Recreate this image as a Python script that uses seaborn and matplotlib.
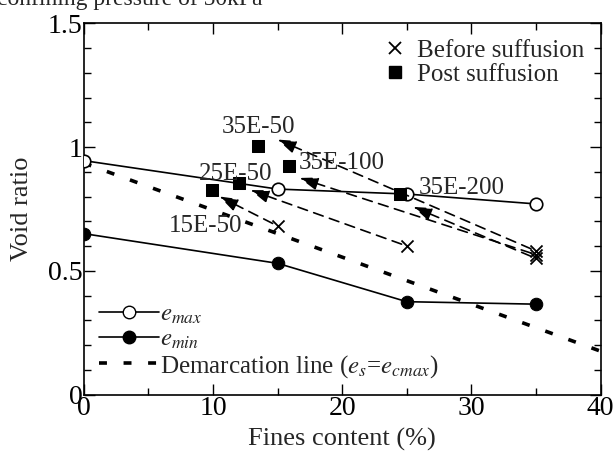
import numpy as np
import pandas as pd
import matplotlib
matplotlib.use("Agg")
import matplotlib.pyplot as plt
from matplotlib.lines import Line2D
from matplotlib.ticker import MultipleLocator, FuncFormatter
import seaborn as sns

# Limiting void ratios against fines content
fines = [0, 15, 25, 35]
e_max = [0.945, 0.83, 0.81, 0.77]
e_min = [0.65, 0.53, 0.375, 0.365]

# Demarcation line end points
demarc_x = [0, 40]
demarc_y = [0.935, 0.175]

# Specimens: before and after suffusion
specimens = ["15E-50", "25E-50", "35E-50", "35E-100", "35E-200"]
before_fc = [15, 25, 35, 35, 35]
before_e = [0.681, 0.60, 0.58, 0.565, 0.55]
post_fc = [9.9, 12.0, 13.5, 15.9, 24.5]
post_e = [0.827, 0.854, 1.004, 0.925, 0.81]

# Where each migration arrow ends
tip_fc = [10.5, 12.9, 15.0, 16.7, 25.5]
tip_e = [0.80, 0.826, 1.03, 0.875, 0.758]

# Specimen label anchors (left edge, vertical centre)
label_fc = [6.6, 8.9, 10.7, 16.6, 25.9]
label_e = [0.68, 0.89, 1.082, 0.935, 0.835]

DEMARC_STYLE = (0, (2.2, 4.6))

sns.set_theme(style="ticks")
plt.rcParams["font.family"] = ["Liberation Serif", "DejaVu Serif"]
plt.rcParams["mathtext.fontset"] = "stix"

fig = plt.figure(figsize=(6.16, 4.65), dpi=100)
ax = fig.add_axes([0.136, 0.1516, 0.839, 0.7984])

lim_df = pd.DataFrame({"fc": fines, "emax": e_max, "emin": e_min})
sns.lineplot(data=lim_df, x="fc", y="emax", ax=ax, color="black", lw=1.2,
             marker="o", markersize=9, markerfacecolor="white",
             markeredgecolor="black", markeredgewidth=1.2, zorder=3)
sns.lineplot(data=lim_df, x="fc", y="emin", ax=ax, color="black", lw=1.2,
             marker="o", markersize=9, markerfacecolor="black",
             markeredgecolor="black", zorder=3)

dm_df = pd.DataFrame({"fc": demarc_x, "e": demarc_y})
sns.lineplot(data=dm_df, x="fc", y="e", ax=ax, color="black", lw=2.6,
             linestyle=DEMARC_STYLE, zorder=2)

# Migration arrows from the initial state towards the post-suffusion state
for bx, by, tx, ty in zip(before_fc, before_e, tip_fc, tip_e):
    ax.annotate("", xy=(tx, ty), xytext=(bx, by),
                arrowprops=dict(arrowstyle="-|>,head_length=0.8,head_width=0.28",
                                mutation_scale=14, color="black", lw=1.2,
                                linestyle=(0, (6, 4)), shrinkA=4, shrinkB=0),
                zorder=4)

pts = pd.DataFrame({
    "fc": before_fc + post_fc,
    "e": before_e + post_e,
    "state": ["Before suffusion"] * len(before_fc) + ["Post suffusion"] * len(post_fc),
})
sns.scatterplot(data=pts[pts.state == "Before suffusion"], x="fc", y="e",
                marker="x", s=75, color="black", linewidth=1.3, ax=ax,
                legend=False, zorder=5)
sns.scatterplot(data=pts[pts.state == "Post suffusion"], x="fc", y="e",
                marker="s", s=85, color="black", edgecolor="black", ax=ax,
                legend=False, zorder=5)

for name, x, y in zip(specimens, label_fc, label_e):
    ax.text(x, y, name, fontsize=18, ha="left", va="center", zorder=6)

ax.set_xlim(0, 40)
ax.set_ylim(0, 1.5)
ax.xaxis.set_major_locator(MultipleLocator(10))
ax.xaxis.set_minor_locator(MultipleLocator(5))
ax.yaxis.set_major_locator(MultipleLocator(0.5))
ax.yaxis.set_minor_locator(MultipleLocator(0.1))
ax.xaxis.set_major_formatter(FuncFormatter(lambda v, p: f"{v:g}"))
ax.yaxis.set_major_formatter(FuncFormatter(lambda v, p: f"{v:g}"))
ax.tick_params(which="both", direction="in", top=True, right=True, colors="black",
               width=1.0)
ax.tick_params(which="major", length=8, labelsize=20, pad=1)
ax.tick_params(which="minor", length=5)
for s in ax.spines.values():
    s.set_color("black")
    s.set_linewidth(1.2)
ax.set_xlabel("Fines content (%)", fontsize=19, labelpad=5)
ax.set_ylabel("Void ratio", fontsize=19)
ax.yaxis.set_label_coords(-0.098, 0.5)

state_handles = [
    Line2D([], [], linestyle="none", marker="x", color="black", markersize=8, mew=1.3),
    Line2D([], [], linestyle="none", marker="s", color="black", markersize=8),
]
leg1 = ax.legend(state_handles, ["Before suffusion", "Post suffusion"],
                 loc="upper right", bbox_to_anchor=(1.0, 1.0), frameon=False,
                 fontsize=18, handlelength=0.8, handletextpad=0.5,
                 labelspacing=0.05, borderaxespad=0.25)
ax.add_artist(leg1)

limit_handles = [
    Line2D([], [], color="black", lw=1.2, marker="o", markersize=9,
           markerfacecolor="white", markeredgecolor="black"),
    Line2D([], [], color="black", lw=1.2, marker="o", markersize=9,
           markerfacecolor="black"),
    Line2D([], [], color="black", lw=2.6, linestyle=DEMARC_STYLE),
]
ax.legend(limit_handles, [r"$e_{max}$", r"$e_{min}$",
                          r"Demarcation line ($e_s$=$e_{cmax}$)"],
          loc="lower left", bbox_to_anchor=(0.0, 0.0), frameon=False, fontsize=18,
          handlelength=2.4, handletextpad=0.05, labelspacing=0.08,
          borderaxespad=0.2)

fig.text(-0.005, 0.99, "confining pressure of 50kPa", fontsize=17,
         ha="left", va="baseline")

fig.savefig("out.png", dpi=100)
